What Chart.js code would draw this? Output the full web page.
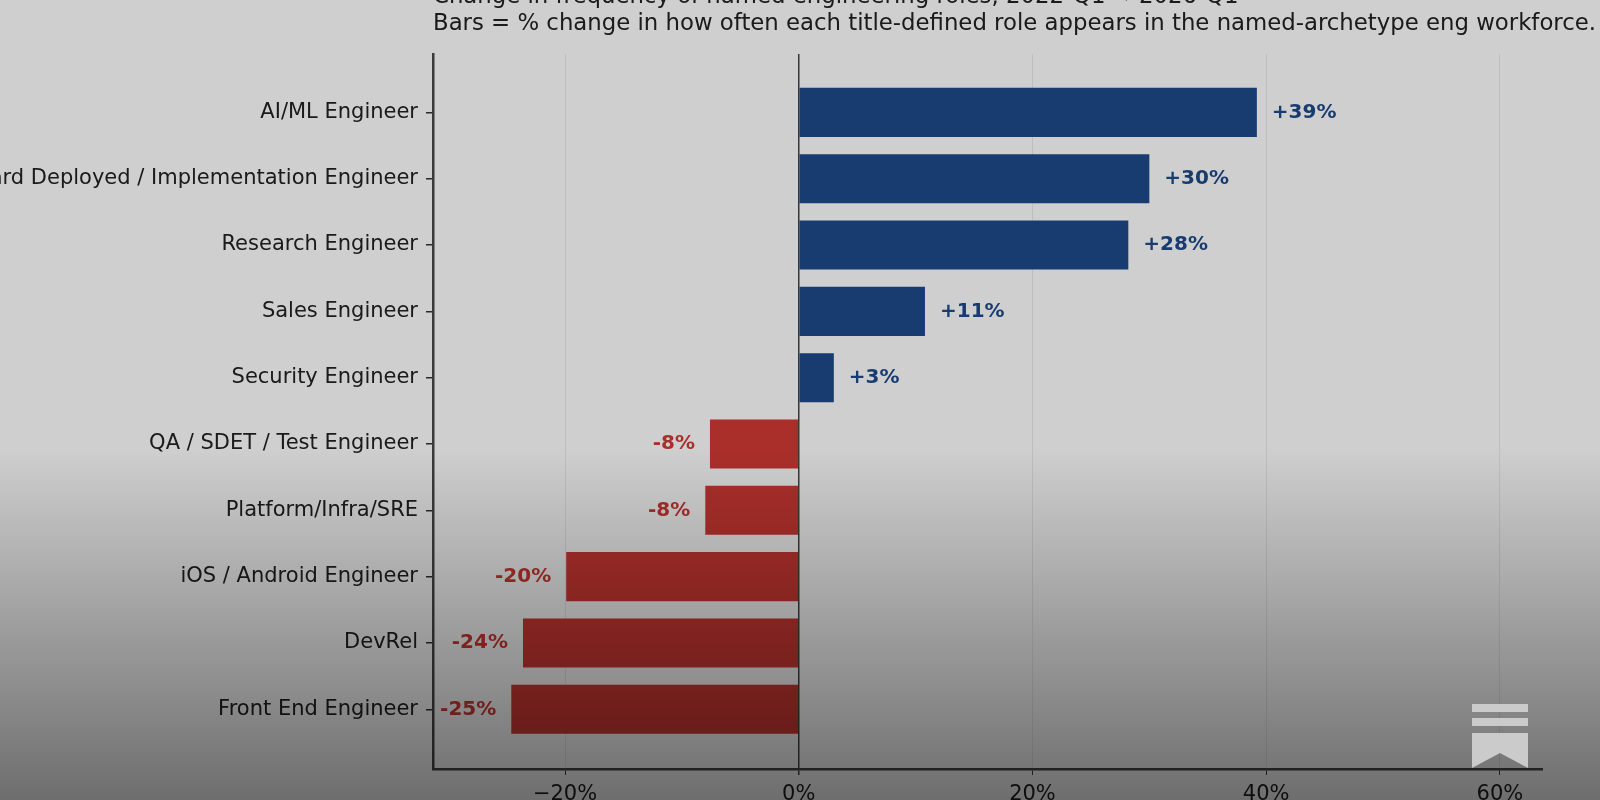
<!DOCTYPE html>
<html>
<head>
<meta charset="utf-8">
<title>Engineering role change</title>
<script src="https://cdn.jsdelivr.net/npm/chart.js@4.4.1/dist/chart.umd.min.js"></script>
<style>
	html, body { margin: 0; padding: 0; background: #fff; }
	#wrap { position: relative; width: 1600px; height: 800px; overflow: hidden; }
	#shade {
		position: absolute; left: 0; top: 0; width: 1600px; height: 800px; pointer-events: none;
		background: linear-gradient(to bottom, rgba(0,0,0,0.19) 0%, rgba(0,0,0,0.19) 56%, rgba(0,0,0,0.57) 100%);
	}
	#logo { position: absolute; left: 1472px; top: 704px; }
</style>
</head>
<body>
<div id="wrap">
	<canvas id="roleChart" width="1600" height="800"></canvas>
	<div id="shade"></div>
	<svg id="logo" width="56" height="64" viewBox="0 0 56 64">
		<rect x="0" y="0" width="56" height="8" fill="#cbcbcb"/>
		<rect x="0" y="14" width="56" height="8" fill="#cbcbcb"/>
		<path d="M0 29 H56 V64 L28 49 L0 64 Z" fill="#cbcbcb"/>
	</svg>
</div>
<script>
const roles = [
	'AI/ML Engineer',
	'Forward Deployed / Implementation Engineer',
	'Research Engineer',
	'Sales Engineer',
	'Security Engineer',
	'QA / SDET / Test Engineer',
	'Platform/Infra/SRE',
	'iOS / Android Engineer',
	'DevRel',
	'Front End Engineer'
];
const pctChange = [39.2, 30.0, 28.2, 10.8, 3.0, -7.6, -8.0, -19.9, -23.6, -24.6];
const xTickValues = [-20, 0, 20, 40, 60];
const titleLines = [
	'Change in frequency of named engineering roles, 2022-Q1 \u2192 2026-Q1',
	'Bars = % change in how often each title-defined role appears in the named-archetype eng workforce.'
];

const blue = '#1f4a8b';
const red = '#d23a35';
const font = '"DejaVu Sans", "Liberation Sans", sans-serif';

Chart.defaults.font.family = font;
Chart.defaults.color = '#222';

function fmtPct(v) {
	const r = Math.round(v);
	return (r > 0 ? '+' : '') + r + '%';
}

// two-line title, left aligned with the plot area (top line runs off the page)
const titlePlugin = {
	id: 'titleLines',
	afterDraw(chart) {
		const ctx = chart.ctx;
		ctx.save();
		ctx.fillStyle = '#222';
		ctx.textAlign = 'left';
		ctx.textBaseline = 'alphabetic';
		ctx.font = '22.8px ' + font;
		ctx.fillText(titleLines[0], chart.chartArea.left, 3);
		ctx.fillText(titleLines[1], chart.chartArea.left, 30);
		ctx.restore();
	}
};

const valueLabels = {
	id: 'valueLabels',
	afterDatasetsDraw(chart) {
		const ctx = chart.ctx;
		const meta = chart.getDatasetMeta(0);
		ctx.save();
		ctx.font = 'bold 20px ' + font;
		ctx.textBaseline = 'middle';
		meta.data.forEach((bar, i) => {
			const v = pctChange[i];
			ctx.fillStyle = v >= 0 ? blue : red;
			ctx.textAlign = v >= 0 ? 'left' : 'right';
			ctx.fillText(fmtPct(v), bar.x + (v >= 0 ? 15 : -15), bar.y);
		});
		ctx.restore();
	}
};

new Chart(document.getElementById('roleChart'), {
	type: 'bar',
	data: {
		datasets: [{
			data: roles.map((r, i) => ({ x: pctChange[i], y: i })),
			backgroundColor: pctChange.map(v => v >= 0 ? blue : red),
			borderWidth: 0,
			categoryPercentage: 1,
			barPercentage: 0.74
		}]
	},
	options: {
		indexAxis: 'y',
		responsive: false,
		animation: false,
		devicePixelRatio: 1,
		layout: { padding: { left: 0, top: 54, right: 58, bottom: 0 } },
		plugins: {
			legend: { display: false },
			tooltip: { enabled: false },
			title: { display: false }
		},
		scales: {
			y: {
				type: 'linear',
				reverse: true,
				min: -0.88,
				max: 9.9,
				offset: false,
				afterBuildTicks: (scale) => { scale.ticks = roles.map((r, i) => ({ value: i })); },
				afterFit: (scale) => { scale.width = 433; },
				ticks: {
					autoSkip: false,
					padding: 8,
					font: { size: 21 },
					color: '#222',
					callback: (v) => roles[v]
				},
				grid: {
					offset: false,
					drawOnChartArea: false,
					drawTicks: true,
					tickLength: 7,
					color: '#333',
					lineWidth: 1.5
				},
				border: { display: true, color: '#484848', width: 2.5 }
			},
			x: {
				type: 'linear',
				min: -31.3,
				max: 63.6,
				afterBuildTicks: (scale) => { scale.ticks = xTickValues.map(v => ({ value: v })); },
				afterFit: (scale) => { scale.height = 31; },
				ticks: {
					autoSkip: false,
					maxRotation: 0,
					padding: 7,
					font: { size: 21 },
					color: '#222',
					callback: (v) => (v < 0 ? '\u2212' + Math.abs(v) : v) + '%'
				},
				grid: {
					drawTicks: true,
					tickLength: 6,
					tickColor: '#444',
					color: (c) => c.tick && c.tick.value === 0 ? '#444' : 'rgba(0,0,0,0.08)',
					lineWidth: (c) => c.tick && c.tick.value === 0 ? 1.5 : 1
				},
				border: { display: true, color: '#484848', width: 2.5 }
			}
		}
	},
	plugins: [titlePlugin, valueLabels]
});
</script>
</body>
</html>
